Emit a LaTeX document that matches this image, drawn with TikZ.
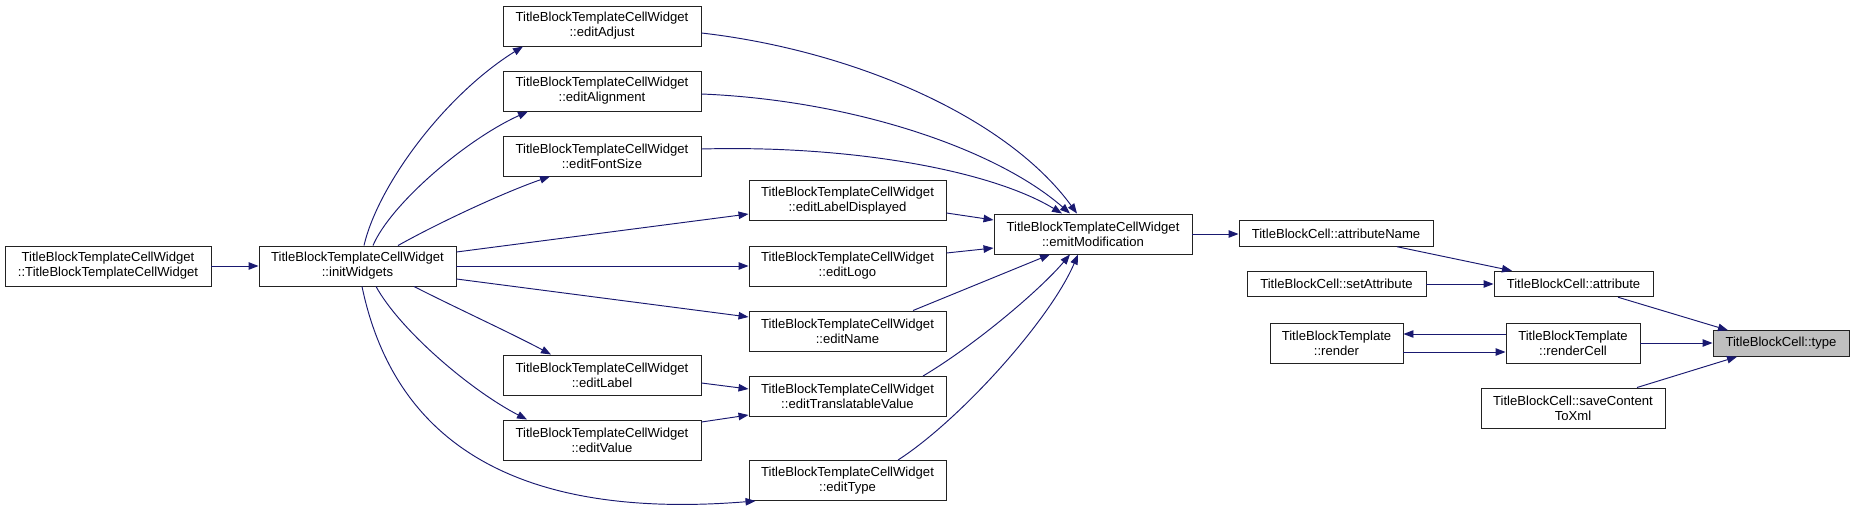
\documentclass[tikz,border=0pt]{standalone}
\usepackage{fontspec}
\setmainfont{Liberation Sans}
\usetikzlibrary{arrows.meta}
\definecolor{edgec}{HTML}{191970}
\definecolor{hl}{HTML}{BFBFBF}
\definecolor{bord}{HTML}{222222}
\tikzset{
  fn/.style={draw=bord, fill=white, line width=0.95pt, inner sep=0pt, align=center,
    font=\fontsize{13.1}{15}\selectfont, minimum height=40pt},
  fn1/.style={fn, minimum height=25.5pt},
  cur/.style={fn1, fill=hl},
  call/.style={draw=edgec, line width=0.95pt, -{Triangle[length=10pt,width=7.5pt]}}
}
\begin{document}
\begin{tikzpicture}[x=1pt,y=-1pt]
\useasboundingbox (0,0) rectangle (1855,513);
% nodes
\node[fn, minimum width=206pt] (ctor) at (108,266) {TitleBlockTemplateCellWidget\\::TitleBlockTemplateCellWidget};
\node[fn, minimum width=197pt] (init) at (357.5,266) {TitleBlockTemplateCellWidget\\::initWidgets};
\node[fn, minimum width=198pt] (adj) at (602,26) {TitleBlockTemplateCellWidget\\::editAdjust};
\node[fn, minimum width=198pt] (aln) at (602,91) {TitleBlockTemplateCellWidget\\::editAlignment};
\node[fn, minimum width=198pt] (fsz) at (602,156) {TitleBlockTemplateCellWidget\\::editFontSize};
\node[fn, minimum width=197pt] (lbd) at (847.5,200.5) {TitleBlockTemplateCellWidget\\::editLabelDisplayed};
\node[fn, minimum width=197pt] (logo) at (847.5,266) {TitleBlockTemplateCellWidget\\::editLogo};
\node[fn, minimum width=197pt] (name) at (847.5,331) {TitleBlockTemplateCellWidget\\::editName};
\node[fn, minimum width=198pt] (lab) at (602,375) {TitleBlockTemplateCellWidget\\::editLabel};
\node[fn, minimum width=197pt] (tv) at (847.5,396.5) {TitleBlockTemplateCellWidget\\::editTranslatableValue};
\node[fn, minimum width=198pt] (val) at (602,440) {TitleBlockTemplateCellWidget\\::editValue};
\node[fn, minimum width=197pt] (typ) at (847.5,480.5) {TitleBlockTemplateCellWidget\\::editType};
\node[fn, minimum width=198pt] (emit) at (1093,234) {TitleBlockTemplateCellWidget\\::emitModification};
\node[fn1, minimum width=194pt] (an) at (1336,233.5) {TitleBlockCell::attributeName};
\node[fn1, minimum width=179pt] (sa) at (1336.5,284) {TitleBlockCell::setAttribute};
\node[fn1, minimum width=159pt] (attr) at (1573.5,284) {TitleBlockCell::attribute};
\node[cur, minimum width=136pt] (type) at (1781,343.5) {TitleBlockCell::type};
\node[fn, minimum width=134pt] (rc) at (1573,343) {TitleBlockTemplate\\::renderCell};
\node[fn, minimum width=133pt] (rend) at (1336.5,343) {TitleBlockTemplate\\::render};
\node[fn, minimum width=184pt] (sc) at (1573,408) {TitleBlockCell::saveContent\\ToXml};
% edges
\draw[call] (ctor.east) -- (init.west);
\draw[call] ([xshift=6.5pt]init.north) .. controls (378,185) and (445,95) .. ([xshift=-79pt]adj.south);
\draw[call] ([xshift=15.5pt]init.north) .. controls (390,205) and (465,140) .. ([xshift=-74pt]aln.south);
\draw[call] ([xshift=40.5pt]init.north) .. controls (440,222) and (505,192) .. ([xshift=-52pt]fsz.south);
\draw[call] ([yshift=14pt]init.east) -- ([yshift=-13.5pt]lbd.west);
\draw[call] (init.east) -- (logo.west);
\draw[call] ([yshift=-13pt]init.east) -- ([yshift=14pt]name.west);
\draw[call] ([xshift=56.5pt]init.south) .. controls (450,305) and (515,335) .. ([xshift=-51pt]lab.north);
\draw[call] ([xshift=18.5pt]init.south) .. controls (400,330) and (470,390) .. ([xshift=-75pt]val.north);
\draw[call] ([xshift=4.5pt]init.south) .. controls (395,445) and (520,520) .. ([xshift=7pt]typ.south west);
\draw[call] ([yshift=-7pt]adj.east) .. controls (850,50) and (1005,115) .. ([xshift=-16pt]emit.north);
\draw[call] ([yshift=-3pt]aln.east) .. controls (850,100) and (995,148) .. ([xshift=-23pt]emit.north);
\draw[call] ([yshift=7pt]fsz.east) .. controls (850,145) and (990,170) .. ([xshift=-31pt]emit.north);
\draw[call] ([yshift=-12.5pt]lbd.east) -- ([yshift=14pt]emit.west);
\draw[call] ([yshift=13pt]logo.east) -- ([yshift=-14pt]emit.west);
\draw[call] ([xshift=65.5pt]name.north) -- ([xshift=-43pt]emit.south);
\draw[call] ([xshift=75.5pt]tv.north) .. controls (975,345) and (1040,290) .. ([xshift=-23pt]emit.south);
\draw[call] ([xshift=50.5pt]typ.north) .. controls (960,420) and (1050,320) .. ([xshift=-15pt]emit.south);
\draw[call] ([yshift=-8pt]lab.east) -- ([yshift=7.5pt]tv.west);
\draw[call] ([yshift=18pt]val.east) -- ([yshift=-18.5pt]tv.west);
\draw[call] (emit.east) -- (emit.east -| an.west);
\draw[call] ([xshift=61pt]an.south) -- ([xshift=-61.5pt]attr.north);
\draw[call] (sa.east) -- (attr.west);
\draw[call] ([xshift=44.5pt]attr.south) -- ([xshift=-53pt]type.north);
\draw[call] (rc.east) -- (rc.east -| type.west);
\draw[call] ([xshift=64pt]sc.north) -- ([xshift=-44pt]type.south);
\draw[call] ([yshift=9pt]rc.west) -- ([yshift=9pt]rend.east);
\draw[call] ([yshift=-9pt]rend.east) -- ([yshift=-9pt]rc.west);
\end{tikzpicture}
\end{document}
